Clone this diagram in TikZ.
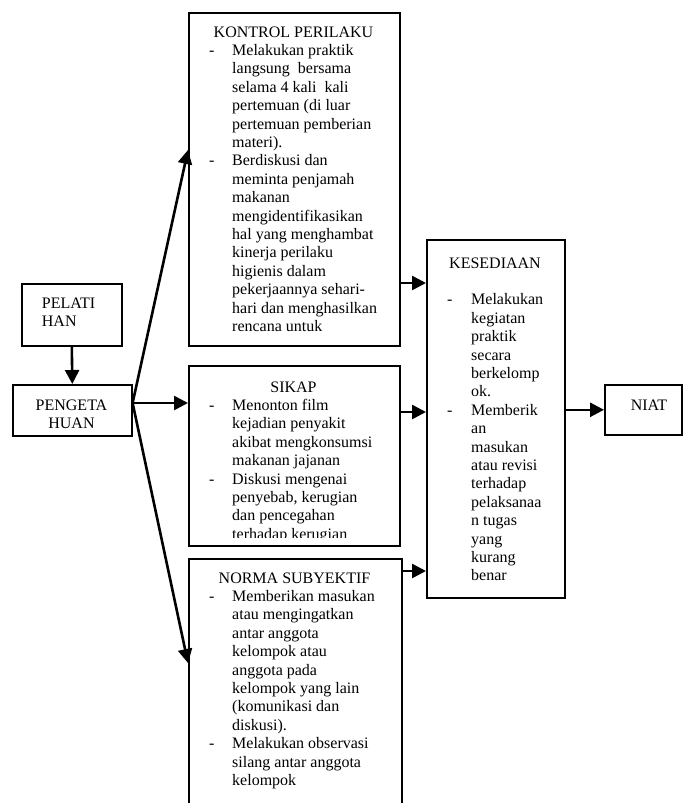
\documentclass[tikz,border=0pt]{standalone}
\usepackage{fontspec}
\setmainfont{Liberation Serif}
\usetikzlibrary{arrows.meta,calc}
\tikzset{
  box/.style={draw, line width=1.6pt, inner sep=0pt, anchor=north west},
  arr/.style={line width=2.6pt, -{Triangle[length=14pt,width=14pt]}},
  txt/.style={inner sep=0pt, font=\fontsize{16}{18.4}\selectfont},
}
\newcommand{\lst}[2][23pt]{\begin{tabular}[t]{@{}p{#1}@{}l@{}}#2\end{tabular}}
\begin{document}
\begin{tikzpicture}[x=1pt,y=1pt]
\useasboundingbox (0,0) rectangle (683,-803);
% boxes
\node[box, minimum width=100pt, minimum height=62pt] (pelatihan) at (21,-283) {};
\node[box, minimum width=119pt, minimum height=51pt] (pengetahuan) at (12,-384) {};
\node[box, minimum width=211pt, minimum height=333pt] (kontrol) at (188,-12) {};
\node[box, minimum width=211pt, minimum height=180pt] (sikap) at (188,-365) {};
\node[box, minimum width=213pt, minimum height=252pt] (norma) at (188,-558) {};
\node[box, minimum width=138pt, minimum height=358pt] (kes) at (426,-239) {};
\node[box, minimum width=77pt, minimum height=50pt] (niat) at (604,-384) {};
% texts
\node[txt, anchor=base west] (pelt) at (41.7,-308) {\begin{tabular}[t]{@{}l@{}}PELATI\\HAN\end{tabular}};
\node[txt, anchor=base] (pengt) at (71.5,-410) {\begin{tabular}[t]{@{}c@{}}PENGETA\\HUAN\end{tabular}};
\node[txt, anchor=base] (niatt) at (649,-410) {NIAT};
\begin{scope}
\clip (188,-12) rectangle (399,-333);
\node[txt, anchor=base] (kontrolt) at (293.5,-37) {KONTROL PERILAKU};
\node[txt, anchor=base west] (kontrolb) at (209,-55.4) {\lst{-&Melakukan praktik\\
&langsung\ \ bersama\\
&selama 4 kali\ \ kali\\
&pertemuan (di luar\\
&pertemuan pemberian\\
&materi).\\
-&Berdiskusi dan\\
&meminta penjamah\\
&makanan\\
&mengidentifikasikan\\
&hal yang menghambat\\
&kinerja perilaku\\
&higienis dalam\\
&pekerjaannya sehari-\\
&hari dan menghasilkan\\
&rencana untuk}};
\end{scope}
\begin{scope}
\clip (188,-365) rectangle (399,-537);
\node[txt, anchor=base] (sikapt) at (293.5,-392) {SIKAP};
\node[txt, anchor=base west] (sikapb) at (209,-410.4) {\lst{-&Menonton film\\
&kejadian penyakit\\
&akibat mengkonsumsi\\
&makanan jajanan\\
-&Diskusi mengenai\\
&penyebab, kerugian\\
&dan pencegahan\\
&terhadap kerugian}};
\end{scope}
\node[txt, anchor=base] (normat) at (294.5,-583) {NORMA SUBYEKTIF};
\node[txt, anchor=base west] (normab) at (209,-601.4) {\lst{-&Memberikan masukan\\
&atau mengingatkan\\
&antar anggota\\
&kelompok atau\\
&anggota pada\\
&kelompok yang lain\\
&(komunikasi dan\\
&diskusi).\\
-&Melakukan observasi\\
&silang antar anggota\\
&kelompok}};
\node[txt, anchor=base] (kest) at (495,-268) {KESEDIAAN};
\node[txt, anchor=base west] (kesb) at (447,-304.8) {\lst[24pt]{-&Melakukan\\
&kegiatan\\
&praktik\\
&secara\\
&berkelomp\\
&ok.\\
-&Memberik\\
&an\\
&masukan\\
&atau revisi\\
&terhadap\\
&pelaksanaa\\
&n tugas\\
&yang\\
&kurang\\
&benar}};
% connectors
\coordinate (fan) at (134,-403);
\draw[arr] (pelatihan.south) -- (pengetahuan.north);
\draw[arr] (pengetahuan.east |- fan) -- (sikap.west |- fan);
\draw[arr] (pengetahuan.east |- fan) -- ([yshift=-138pt]kontrol.north west);
\draw[arr] (pengetahuan.east |- fan) -- ([yshift=-105pt]norma.north west);
\coordinate (k1) at (0,-283);
\coordinate (k2) at (0,-412);
\coordinate (k3) at (0,-571);
\draw[arr] (kontrol.east |- k1) -- (kes.west |- k1);
\draw[arr] (sikap.east |- k2) -- (kes.west |- k2);
\draw[arr] (norma.east |- k3) -- (kes.west |- k3);
\draw[arr] (kes.east |- niat.west) -- (niat.west);
\end{tikzpicture}
\end{document}
